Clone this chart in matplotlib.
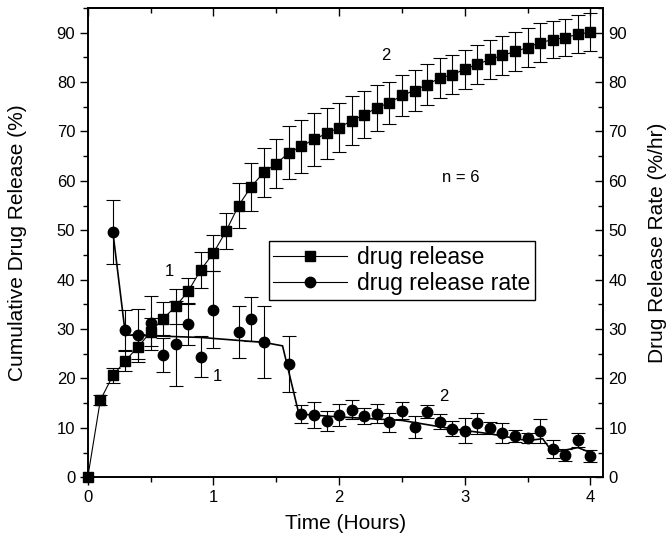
import matplotlib
matplotlib.use("Agg")
import matplotlib.pyplot as plt
from matplotlib.lines import Line2D
from matplotlib.ticker import MultipleLocator, NullFormatter

plt.rcParams["font.family"] = ["Liberation Sans", "DejaVu Sans"]

# cumulative release (left axis), sampled every 0.1 h
time_release = [0.0, 0.1, 0.2, 0.3, 0.4, 0.5, 0.6, 0.7, 0.8, 0.9, 1.0,
                1.1, 1.2, 1.3, 1.4, 1.5, 1.6, 1.7, 1.8, 1.9, 2.0,
                2.1, 2.2, 2.3, 2.4, 2.5, 2.6, 2.7, 2.8, 2.9, 3.0,
                3.1, 3.2, 3.3, 3.4, 3.5, 3.6, 3.7, 3.8, 3.9, 4.0]
cumulative_release = [0.0, 15.6, 20.6, 23.6, 26.4, 29.4, 32.1, 34.6, 37.7, 42.0, 45.4,
                      49.8, 55.0, 58.8, 61.7, 63.5, 65.7, 67.0, 68.4, 69.6, 70.8,
                      72.2, 73.4, 74.8, 75.8, 77.3, 78.3, 79.5, 80.8, 81.5, 82.6,
                      83.6, 84.6, 85.4, 86.2, 87.0, 88.0, 88.6, 89.0, 89.7, 90.1]
cumulative_err = [0.0, 1.0, 1.6, 2.0, 2.5, 2.9, 3.4, 3.5, 2.6, 3.6, 3.7,
                  3.6, 4.5, 4.8, 5.0, 4.9, 5.4, 5.4, 5.3, 5.1, 5.0,
                  4.9, 4.8, 4.6, 4.2, 4.2, 4.2, 4.1, 4.1, 4.0, 4.0,
                  4.0, 4.0, 3.9, 3.9, 3.9, 3.9, 3.8, 3.8, 3.8, 3.8]

# release rate (right axis)
time_rate = [0.2, 0.3, 0.4, 0.5, 0.6, 0.7, 0.8, 0.9, 1.0, 1.2, 1.3, 1.4, 1.6,
             1.7, 1.8, 1.9, 2.0, 2.1, 2.2, 2.3, 2.4, 2.5, 2.6, 2.7, 2.8, 2.9,
             3.0, 3.1, 3.2, 3.3, 3.4, 3.5, 3.6, 3.7, 3.8, 3.9, 4.0]
release_rate = [49.6, 29.8, 28.7, 31.2, 24.7, 27.0, 31.0, 24.4, 33.9, 29.4, 32.0, 27.3, 22.9,
                12.8, 12.6, 11.4, 12.6, 13.7, 12.4, 12.9, 11.1, 13.5, 10.1, 13.3, 11.2, 9.8,
                9.4, 10.9, 10.0, 8.9, 8.3, 7.9, 9.3, 5.7, 4.5, 7.5, 4.3]
rate_err = [6.5, 4.0, 5.3, 5.5, 3.4, 8.6, 4.2, 4.2, 7.8, 5.2, 4.4, 7.3, 5.6,
            1.8, 2.6, 2.0, 2.3, 2.0, 1.7, 2.0, 1.9, 1.7, 2.2, 1.4, 1.5, 1.5,
            2.5, 2.2, 1.2, 2.0, 1.2, 1.0, 2.4, 1.9, 1.2, 1.4, 1.2]

# two-phase fitted rate line
fit_time = [0.2, 0.3, 0.9, 1.4, 1.55, 1.68, 2.0, 2.5, 2.9, 3.2, 3.5, 3.62, 3.7, 3.8, 3.9, 4.0]
fit_rate = [49.6, 28.8, 28.3, 27.3, 26.6, 12.8, 12.2, 11.5, 9.8, 8.8, 7.4, 7.8, 5.0, 5.5, 6.0, 5.0]

fig = plt.figure(figsize=(6.7, 5.35), dpi=100)
ax = fig.add_axes([0.131, 0.108, 0.769, 0.877])
ax2 = ax.twinx()

ax.errorbar(time_release, cumulative_release, yerr=cumulative_err, fmt="none",
            ecolor="black", elinewidth=0.8, capsize=5, capthick=0.8)
ax.plot(time_release, cumulative_release, color="black", linewidth=0.8,
        marker="s", markersize=6.5, clip_on=False, zorder=3)

ax2.errorbar(time_rate, release_rate, yerr=rate_err, fmt="o", color="black",
             markersize=7.5, elinewidth=0.8, capsize=5, capthick=0.8)
ax2.plot(fit_time, fit_rate, color="black", linewidth=1.2)

ax.set_xlim(0, 4.1)
ax.set_ylim(0, 95)
ax2.set_ylim(0, 95)

ax.xaxis.set_major_locator(MultipleLocator(1))
ax.xaxis.set_minor_locator(MultipleLocator(0.5))
for a in (ax, ax2):
    a.yaxis.set_major_locator(MultipleLocator(10))
    a.yaxis.set_minor_locator(MultipleLocator(5))

ax.tick_params(which="major", direction="out", length=6, width=1, labelsize=12, pad=3)
ax.tick_params(which="minor", direction="out", length=3.5, width=1)
ax2.tick_params(which="major", direction="in", length=6, width=1, labelsize=12, pad=4)
ax2.tick_params(which="minor", direction="in", length=3.5, width=1)

top = ax.secondary_xaxis("top")
top.xaxis.set_major_locator(MultipleLocator(1))
top.xaxis.set_minor_locator(MultipleLocator(0.5))
top.xaxis.set_major_formatter(NullFormatter())
top.tick_params(which="major", direction="in", length=6, width=1)
top.tick_params(which="minor", direction="in", length=3.5, width=1)

for a in (ax, ax2, top):
    for s in a.spines.values():
        s.set_linewidth(1.2)

ax.set_xlabel("Time (Hours)", fontsize=15)
ax.set_ylabel("Cumulative Drug Release (%)", fontsize=15)
ax2.set_ylabel("Drug Release Rate (%/hr)", fontsize=15)
ax.xaxis.set_label_coords(0.5, -0.078)
ax.yaxis.set_label_coords(-0.118, 0.5)
ax2.yaxis.set_label_coords(1.088, 0.5)

ax.text(0.65, 41.6, "1", fontsize=12, ha="center", va="center")
ax.text(1.03, 20.3, "1", fontsize=12, ha="center", va="center")
ax.text(2.37, 85.4, "2", fontsize=12, ha="center", va="center")
ax.text(2.83, 16.3, "2", fontsize=12, ha="center", va="center")
ax.text(2.97, 60.6, "n = 6", fontsize=12, ha="center", va="center")

handles = [
    Line2D([], [], color="black", linewidth=0.8, marker="s", markersize=6.5),
    Line2D([], [], color="black", linewidth=0.8, marker="o", markersize=7.5),
]
leg = ax2.legend(handles, ["drug release", "drug release rate"], loc="upper left",
                 bbox_to_anchor=(0.351, 0.503), borderaxespad=0, fontsize=16.5,
                 handlelength=3.2, handletextpad=0.45, borderpad=0.2,
                 labelspacing=0.15, fancybox=False, framealpha=1, edgecolor="black")
leg.get_frame().set_linewidth(1.0)

fig.savefig("out.png", dpi=100)
